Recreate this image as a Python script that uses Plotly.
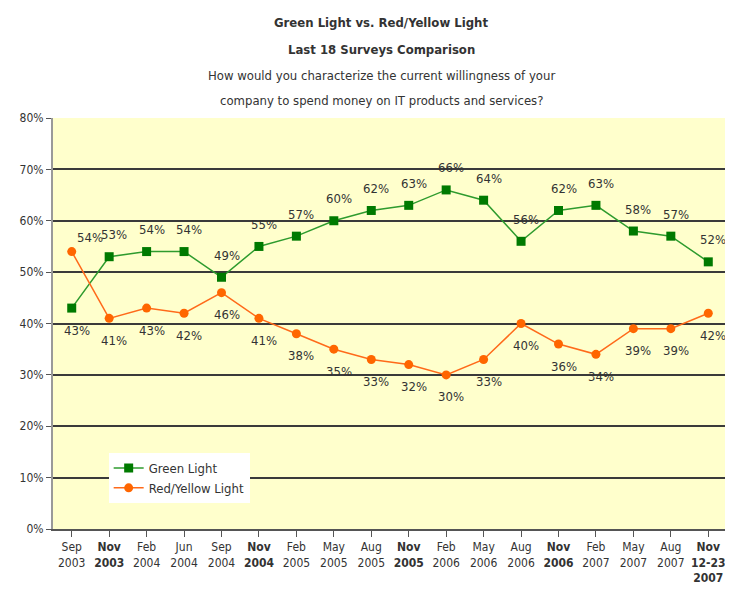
import plotly.graph_objects as go

categories = ["Sep 2003", "Nov 2003", "Feb 2004", "Jun 2004", "Sep 2004", "Nov 2004",
              "Feb 2005", "May 2005", "Aug 2005", "Nov 2005", "Feb 2006", "May 2006",
              "Aug 2006", "Nov 2006", "Feb 2007", "May 2007", "Aug 2007", "Nov 12-23 2007"]
tick_labels = ["Sep<br>2003", "<b>Nov<br>2003</b>", "Feb<br>2004", "Jun<br>2004", "Sep<br>2004",
               "<b>Nov<br>2004</b>", "Feb<br>2005", "May<br>2005", "Aug<br>2005", "<b>Nov<br>2005</b>",
               "Feb<br>2006", "May<br>2006", "Aug<br>2006", "<b>Nov<br>2006</b>", "Feb<br>2007",
               "May<br>2007", "Aug<br>2007", "<b>Nov<br>12-23<br>2007</b>"]
green = [43, 53, 54, 54, 49, 55, 57, 60, 62, 63, 66, 64, 56, 62, 63, 58, 57, 52]
red = [54, 41, 43, 42, 46, 41, 38, 35, 33, 32, 30, 33, 40, 36, 34, 39, 39, 42]
y_ticks = [0, 10, 20, 30, 40, 50, 60, 70, 80]

FONT = "DejaVu Sans Condensed, Liberation Sans Narrow, Arial Narrow, Liberation Sans, sans-serif"
TXT = "#333333"

W, H = 733, 592
ML, MR, MT, MB = 41, 14, 110, 71
plot_w = W - ML - MR
plot_h = H - MT - MB

x = list(range(len(categories)))

fig = go.Figure()
fig.add_trace(go.Scatter(
    x=x, y=green, name="Green Light", mode="lines+markers",
    line=dict(color="#2E9B2E", width=1.5),
    marker=dict(symbol="square", size=9, color="#007A00"),
))
fig.add_trace(go.Scatter(
    x=x, y=red, name="Red/Yellow Light", mode="lines+markers",
    line=dict(color="#FF6A1A", width=1.5),
    marker=dict(symbol="circle", size=9, color="#FF6600"),
))

annotations = []
for i, (g, r) in enumerate(zip(green, red)):
    g_above = g >= r
    annotations.append(dict(x=i, y=g, xref="x", yref="y", text=f"{g}%", showarrow=False,
                            xshift=5, yshift=22 if g_above else -22,
                            font=dict(family=FONT, size=13, color=TXT)))
    annotations.append(dict(x=i, y=r, xref="x", yref="y", text=f"{r}%", showarrow=False,
                            xshift=18 if not g_above else 5, yshift=14 if not g_above else -22,
                            font=dict(family=FONT, size=13, color=TXT)))

title_lines = [
    ("<b>Green Light vs. Red/Yellow Light</b>", 15, 13),
    ("<b>Last 18 Surveys Comparison</b>", 41, 13),
    ("How would you characterize the current willingness of your", 67, 13),
    ("company to spend money on IT products and services?", 92, 13),
]
for t, ypx, fs in title_lines:
    annotations.append(dict(x=(371 - ML) / plot_w, y=(H - MB - ypx) / plot_h,
                            xref="paper", yref="paper",
                            xanchor="center", yanchor="middle", text=t, showarrow=False,
                            font=dict(family=FONT, size=fs, color=TXT)))

fig.update_layout(
    width=W, height=H,
    margin=dict(l=ML, r=MR, t=MT, b=MB),
    paper_bgcolor="white",
    plot_bgcolor="#FFFFCC",
    font=dict(family=FONT, size=12, color=TXT),
    showlegend=True,
    legend=dict(x=(97 - ML) / plot_w, y=(H - MB - 445) / plot_h, xanchor="left", yanchor="top",
                bgcolor="white", font=dict(family=FONT, size=13, color=TXT),
                tracegroupgap=2),
    xaxis=dict(
        tickmode="array", tickvals=x, ticktext=tick_labels,
        range=[-0.5, len(categories) - 0.5],
        showgrid=False, zeroline=False,
        ticks="outside", ticklen=6, tickcolor="#555555", tickson="boundaries",
        showline=True, linecolor="#555555", linewidth=1.5,
        tickfont=dict(family=FONT, size=12, color=TXT),
    ),
    yaxis=dict(
        range=[0, 80], tickvals=y_ticks, ticktext=[f"{v}%" for v in y_ticks],
        showgrid=True, gridcolor="#3A3A3A", gridwidth=1.5,
        zeroline=False, ticks="outside", ticklen=5, tickcolor="#555555",
        showline=True, linecolor="#999999", linewidth=2,
        tickfont=dict(family=FONT, size=12, color=TXT),
    ),
    annotations=annotations,
)

fig.write_html("out.html")
